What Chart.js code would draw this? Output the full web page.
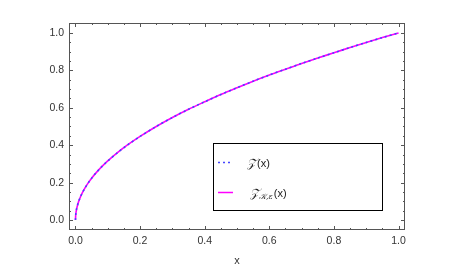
<!DOCTYPE html>
<html>
<head>
<meta charset="utf-8">
<script src="https://cdn.jsdelivr.net/npm/chart.js@4.4.0/dist/chart.umd.min.js"></script>
<style>
  html, body { margin: 0; padding: 0; background: #fff; }
  #wrap { width: 452px; height: 273px; }
</style>
</head>
<body>
<div id="wrap"><canvas id="myChart"></canvas></div>
<script>
// data
var xValues = [0, 0.001, 0.003, 0.006, 0.01, 0.015, 0.02, 0.03, 0.04, 0.05, 0.065, 0.08, 0.1, 0.13, 0.16, 0.2,
               0.25, 0.3, 0.35, 0.4, 0.45, 0.5, 0.55, 0.6, 0.65, 0.7, 0.75, 0.8, 0.85, 0.9, 0.95, 1.0];
var zValues = [0, 0.032, 0.055, 0.077, 0.10, 0.122, 0.141, 0.173, 0.20, 0.224, 0.255, 0.283, 0.316, 0.36, 0.40, 0.447,
               0.50, 0.548, 0.592, 0.632, 0.671, 0.707, 0.742, 0.775, 0.806, 0.837, 0.866, 0.894, 0.922, 0.949, 0.975, 1.0];
var zkValues = [0, 0.032, 0.055, 0.077, 0.10, 0.122, 0.141, 0.173, 0.20, 0.224, 0.255, 0.283, 0.316, 0.36, 0.40, 0.447,
                0.50, 0.548, 0.592, 0.632, 0.671, 0.707, 0.742, 0.775, 0.806, 0.837, 0.866, 0.894, 0.922, 0.949, 0.975, 1.0];
var xTicks = [0, 0.2, 0.4, 0.6, 0.8, 1.0];
var yTicks = [0, 0.2, 0.4, 0.6, 0.8, 1.0];
var xMinor = [0.05, 0.1, 0.15, 0.25, 0.3, 0.35, 0.45, 0.5, 0.55, 0.65, 0.7, 0.75, 0.85, 0.9, 0.95];
var yMinor = [0.05, 0.1, 0.15, 0.25, 0.3, 0.35, 0.45, 0.5, 0.55, 0.65, 0.7, 0.75, 0.85, 0.9, 0.95];
var seriesNames = ['Z', 'ZK'];

var blue = '#4646ff';
var magenta = '#ff00ff';
var frameColor = '#555555';

function pts(ys) {
    return xValues.map(function(x, i) { return {x: x, y: ys[i]}; });
}

// frame with inward ticks (Mathematica style) + boxed legend, all in one hook
var decorPlugin = {
    id: 'decor',
    afterDraw: function(chart) {
        var c = chart.ctx, a = chart.chartArea;
        var sx = chart.scales.x, sy = chart.scales.y;
        var L = Math.round(a.left), T = Math.round(a.top), R = Math.round(a.right), B = Math.round(a.bottom);

        c.save();
        c.fillStyle = frameColor;
        c.fillRect(L, T, R - L, 1);
        c.fillRect(L, B - 1, R - L, 1);
        c.fillRect(L, T, 1, B - T);
        c.fillRect(R - 1, T, 1, B - T);
        var xt = function(v, len) {
            var p = Math.round(sx.getPixelForValue(v));
            c.fillRect(p, B - len, 1, len);
            c.fillRect(p, T, 1, len);
        };
        var yt = function(v, len) {
            var p = Math.round(sy.getPixelForValue(v));
            c.fillRect(L, p, len, 1);
            c.fillRect(R - len, p, len, 1);
        };
        xTicks.forEach(function(v) { xt(v, 4); });
        xMinor.forEach(function(v) { xt(v, 2); });
        yTicks.forEach(function(v) { yt(v, 4); });
        yMinor.forEach(function(v) { yt(v, 2); });
        c.restore();

        // legend box
        c.save();
        c.fillStyle = '#fff';
        c.fillRect(213, 143, 170, 68);
        c.strokeStyle = '#000';
        c.lineWidth = 1;
        c.strokeRect(213.5, 143.5, 169, 67);

        c.lineWidth = 1.5;
        c.strokeStyle = blue;
        c.setLineDash([2, 3]);
        c.beginPath(); c.moveTo(218, 162.5); c.lineTo(233, 162.5); c.stroke();
        c.setLineDash([]);
        c.strokeStyle = magenta;
        c.beginPath(); c.moveTo(218, 192.5); c.lineTo(233, 192.5); c.stroke();

        c.fillStyle = '#222';
        c.textBaseline = 'alphabetic';
        c.font = 'italic 12px "DejaVu Serif"';
        c.fillText('\uD835\uDCB5', 247, 167);
        var w = c.measureText('\uD835\uDCB5').width;
        c.font = '11px "Liberation Sans"';
        c.fillText('(x)', 247 + w + 1, 167);

        c.font = 'italic 12px "DejaVu Serif"';
        c.fillText('\uD835\uDCB5', 250, 197);
        var x2 = 250 + c.measureText('\uD835\uDCB5').width;
        c.font = 'italic 8px "DejaVu Serif"';
        c.fillText('\uD835\uDCA6,\u03B5', x2, 199);
        x2 += c.measureText('\uD835\uDCA6,\u03B5').width + 1;
        c.font = '11px "Liberation Sans"';
        c.fillText('(x)', x2, 197);
        c.restore();
    }
};

var config = {
    type: 'line',
    data: {
        datasets: [{
            label: seriesNames[0],
            data: pts(zValues),
            borderColor: blue,
            borderWidth: 1.6,
            borderDash: [2, 3],
            pointRadius: 0,
            tension: 0.3,
            order: 0
        }, {
            label: seriesNames[1],
            data: pts(zkValues),
            borderColor: magenta,
            borderWidth: 1.6,
            pointRadius: 0,
            tension: 0.3,
            order: 1
        }]
    },
    options: {
        responsive: true,
        maintainAspectRatio: false,
        animation: false,
        layout: { padding: { left: 0, right: 47, top: 23, bottom: 0 } },
        plugins: { legend: { display: false }, tooltip: { enabled: false } },
        scales: {
            x: {
                type: 'linear',
                min: -0.02,
                max: 1.02,
                afterBuildTicks: function(s) { s.ticks = xTicks.map(function(v) { return {value: v}; }); },
                afterFit: function(s) { s.height = 43; },
                grid: { display: false, drawTicks: false },
                border: { display: false },
                ticks: {
                    padding: 5,
                    color: '#333',
                    font: { family: 'Liberation Sans', size: 10.5 },
                    maxRotation: 0,
                    callback: function(v) { return v.toFixed(1); }
                },
                title: {
                    display: true,
                    text: 'x',
                    color: '#333',
                    font: { family: 'Liberation Sans', size: 11 },
                    padding: { top: 4, bottom: 5 }
                }
            },
            y: {
                min: -0.053,
                max: 1.053,
                afterBuildTicks: function(s) { s.ticks = yTicks.map(function(v) { return {value: v}; }); },
                afterFit: function(s) { s.width = 69; },
                grid: { display: false, drawTicks: false },
                border: { display: false },
                ticks: {
                    padding: 5,
                    color: '#333',
                    font: { family: 'Liberation Sans', size: 10.5 },
                    callback: function(v) { return v.toFixed(1); }
                }
            }
        }
    },
    plugins: [decorPlugin]
};

var chart = new Chart(document.getElementById('myChart').getContext('2d'), config);
</script>
</body>
</html>
